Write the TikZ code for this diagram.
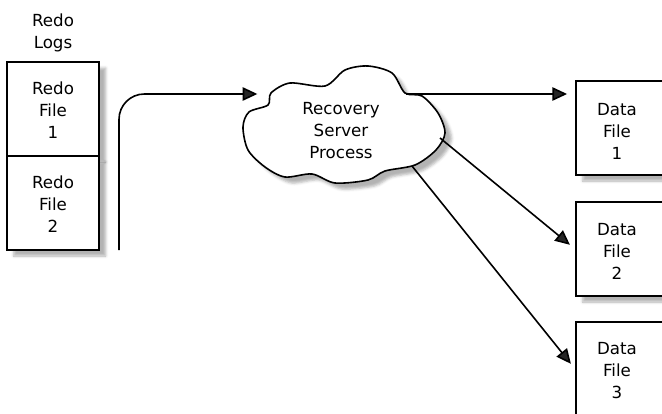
\documentclass[tikz,border=0pt]{standalone}
\usepackage{fontspec}
\setmainfont{DejaVu Sans}
\usetikzlibrary{arrows.meta,shadows.blur}

\begin{document}
\begin{tikzpicture}[x=0.75pt,y=-0.75pt,
  lbl/.style={align=center, font=\fontsize{12.5}{16.5}\selectfont, inner sep=0pt},
  fshadow/.style={blur shadow={shadow xshift=5pt, shadow yshift=-4.5pt,
      shadow blur radius=2pt, shadow opacity=30}},
  redobox/.style={draw, line width=1.4pt, fill=white, fshadow,
      minimum width=69pt, minimum height=70.5pt, inner sep=0pt},
  databox/.style={draw, line width=1.4pt, fill=white, fshadow,
      minimum width=72pt, minimum height=70.5pt, inner sep=0pt},
  conn/.style={line width=1.2pt, -{Triangle[length=11pt,width=10pt]}}]

\useasboundingbox (0,0) rectangle (662,414);
\clip (0,0) rectangle (662,414);

% redo log files
\node[lbl] (logs) at (53,33) {Redo\\Logs};
\node[redobox] (redo1) at (53,109) {};
\node[redobox] (redo2) at (53,203) {};
\node[lbl] (redo1t) at (53,110) {Redo\\File\\1};
\node[lbl] (redo2t) at (53,204) {Redo\\File\\2};

% recovery cloud
\draw[line width=1.2pt, fill=white, fshadow]
  plot[smooth cycle, tension=0.5] coordinates {
    (268,105) (271,93) (290,83) (325,86) (345,70) (368,66) (392,73)
    (405,93) (422,96) (438,113) (445,133) (436,150) (415,165) (385,171)
    (368,180) (335,183) (312,174) (285,177) (265,167) (248,150)
    (243,127) (249,112)};
\node[lbl] (cloud) at (341,131) {Recovery\\Server\\Process};
\coordinate (cin) at (268,94);
\coordinate (c1) at (406,94);
\coordinate (c2) at (440,138);
\coordinate (c3) at (412,166);

% data files
\node[databox] (df1) at (624,128) {};
\node[databox] (df2) at (624,249) {};
\node[databox] (df3) at (624,369) {};
\node[lbl] (df1t) at (617,131) {Data\\File\\1};
\node[lbl] (df2t) at (617,251) {Data\\File\\2};
\node[lbl] (df3t) at (617,371) {Data\\File\\3};

% connectors
\coordinate (logout) at (119,250);
\draw[conn, rounded corners=19pt, shorten >=8pt] (logout) -- (logout |- cin) -- (cin);
\draw[conn, shorten >=6pt] (c1) -- (df1.west |- c1);
\draw[conn, shorten >=5pt] (c2) -- (df2.west);
\draw[conn, shorten >=5pt] (c3) -- (df3.west);
\end{tikzpicture}
\end{document}
